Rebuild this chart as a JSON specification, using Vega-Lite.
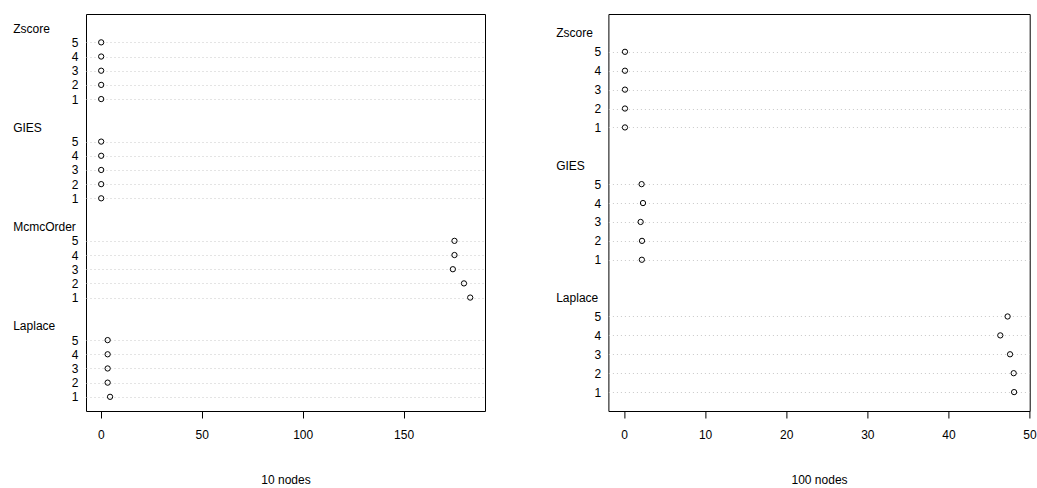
{
  "$schema": "https://vega.github.io/schema/vega-lite/v6.json",
  "padding": {"left": 12, "top": 13, "right": 0, "bottom": 0},
  "bounds": "flush",
  "spacing": 123.4,
  "config": {
    "font": "Liberation Sans",
    "view": {"stroke": "#000000", "strokeWidth": 1},
    "axis": {
      "labelFont": "Liberation Sans",
      "labelColor": "#000000",
      "labelFontSize": 12,
      "titleFont": "Liberation Sans",
      "titleColor": "#000000",
      "titleFontSize": 12,
      "titleFontWeight": "normal"
    }
  },
  "datasets": {
    "n10": [
      {"method": "Zscore", "run": 5, "key": "Zscore 5", "value": 0.2},
      {"method": "Zscore", "run": 4, "key": "Zscore 4", "value": 0.2},
      {"method": "Zscore", "run": 3, "key": "Zscore 3", "value": 0.2},
      {"method": "Zscore", "run": 2, "key": "Zscore 2", "value": 0.2},
      {"method": "Zscore", "run": 1, "key": "Zscore 1", "value": 0.2},
      {"method": "GIES", "run": 5, "key": "GIES 5", "value": 0.2},
      {"method": "GIES", "run": 4, "key": "GIES 4", "value": 0.2},
      {"method": "GIES", "run": 3, "key": "GIES 3", "value": 0.2},
      {"method": "GIES", "run": 2, "key": "GIES 2", "value": 0.2},
      {"method": "GIES", "run": 1, "key": "GIES 1", "value": 0.2},
      {"method": "McmcOrder", "run": 5, "key": "McmcOrder 5", "value": 175.2},
      {"method": "McmcOrder", "run": 4, "key": "McmcOrder 4", "value": 175.2},
      {"method": "McmcOrder", "run": 3, "key": "McmcOrder 3", "value": 174.4},
      {"method": "McmcOrder", "run": 2, "key": "McmcOrder 2", "value": 179.9},
      {"method": "McmcOrder", "run": 1, "key": "McmcOrder 1", "value": 183.0},
      {"method": "Laplace", "run": 5, "key": "Laplace 5", "value": 3.4},
      {"method": "Laplace", "run": 4, "key": "Laplace 4", "value": 3.4},
      {"method": "Laplace", "run": 3, "key": "Laplace 3", "value": 3.4},
      {"method": "Laplace", "run": 2, "key": "Laplace 2", "value": 3.4},
      {"method": "Laplace", "run": 1, "key": "Laplace 1", "value": 4.6}
    ],
    "n100": [
      {"method": "Zscore", "run": 5, "key": "Zscore 5", "value": 0.12},
      {"method": "Zscore", "run": 4, "key": "Zscore 4", "value": 0.12},
      {"method": "Zscore", "run": 3, "key": "Zscore 3", "value": 0.12},
      {"method": "Zscore", "run": 2, "key": "Zscore 2", "value": 0.12},
      {"method": "Zscore", "run": 1, "key": "Zscore 1", "value": 0.12},
      {"method": "GIES", "run": 5, "key": "GIES 5", "value": 2.17},
      {"method": "GIES", "run": 4, "key": "GIES 4", "value": 2.34},
      {"method": "GIES", "run": 3, "key": "GIES 3", "value": 2.05},
      {"method": "GIES", "run": 2, "key": "GIES 2", "value": 2.22},
      {"method": "GIES", "run": 1, "key": "GIES 1", "value": 2.2},
      {"method": "Laplace", "run": 5, "key": "Laplace 5", "value": 47.3},
      {"method": "Laplace", "run": 4, "key": "Laplace 4", "value": 46.4},
      {"method": "Laplace", "run": 3, "key": "Laplace 3", "value": 47.6},
      {"method": "Laplace", "run": 2, "key": "Laplace 2", "value": 48.05},
      {"method": "Laplace", "run": 1, "key": "Laplace 1", "value": 48.1}
    ]
  },
  "hconcat": [
    {
      "width": 399,
      "height": 397,
      "data": {"name": "n10"},
      "mark": {"type": "point", "shape": "circle", "filled": false, "stroke": "#000000", "strokeWidth": 1, "size": 28, "opacity": 1},
      "encoding": {
        "x": {
          "field": "value",
          "type": "quantitative",
          "scale": {"domain": [-7.32, 190.32], "nice": false, "zero": false},
          "axis": {
            "values": [0, 50, 100, 150],
            "title": "10 nodes",
            "domain": false,
            "grid": false,
            "tickColor": "#000000",
            "tickSize": 7,
            "labelPadding": 11,
            "titlePadding": 34,
            "labelFlush": false
          }
        },
        "y": {
          "field": "key",
          "type": "nominal",
          "scale": {
            "type": "point",
            "padding": 1,
            "domain": ["Zscore", "Zscore 5", "Zscore 4", "Zscore 3", "Zscore 2", "Zscore 1", "gap1",
                       "GIES", "GIES 5", "GIES 4", "GIES 3", "GIES 2", "GIES 1", "gap2",
                       "McmcOrder", "McmcOrder 5", "McmcOrder 4", "McmcOrder 3", "McmcOrder 2", "McmcOrder 1", "gap3",
                       "Laplace", "Laplace 5", "Laplace 4", "Laplace 3", "Laplace 2", "Laplace 1"]
          },
          "axis": {
            "title": null,
            "ticks": false,
            "tickSize": 0,
            "domain": false,
            "grid": true,
            "gridColor": "#c8c8c8",
            "gridDash": [1, 3],
            "gridWidth": 1,
            "gridOpacity": {"condition": {"test": "indexof(datum.value, ' ') >= 0", "value": 1}, "value": 0},
            "labelExpr": "indexof(datum.value, ' ') >= 0 ? substring(datum.value, indexof(datum.value, ' ') + 1) : (indexof(datum.value, 'gap') == 0 ? '' : datum.value)",
            "labelAlign": {"condition": {"test": "indexof(datum.value, ' ') < 0", "value": "left"}, "value": "right"},
            "labelPadding": {"condition": {"test": "indexof(datum.value, ' ') < 0", "value": 73.3}, "value": 8},
            "labelBaseline": "middle",
            "labelOverlap": false
          }
        }
      }
    },
    {
      "width": 421.3,
      "height": 397,
      "data": {"name": "n100"},
      "mark": {"type": "point", "shape": "circle", "filled": false, "stroke": "#000000", "strokeWidth": 1, "size": 28, "opacity": 1},
      "encoding": {
        "x": {
          "field": "value",
          "type": "quantitative",
          "scale": {"domain": [-1.924, 50.024], "nice": false, "zero": false},
          "axis": {
            "values": [0, 10, 20, 30, 40, 50],
            "title": "100 nodes",
            "domain": false,
            "grid": false,
            "tickColor": "#000000",
            "tickSize": 7,
            "labelPadding": 11,
            "titlePadding": 34,
            "labelFlush": false
          }
        },
        "y": {
          "field": "key",
          "type": "nominal",
          "scale": {
            "type": "point",
            "padding": 1,
            "domain": ["Zscore", "Zscore 5", "Zscore 4", "Zscore 3", "Zscore 2", "Zscore 1", "gap1",
                       "GIES", "GIES 5", "GIES 4", "GIES 3", "GIES 2", "GIES 1", "gap2",
                       "Laplace", "Laplace 5", "Laplace 4", "Laplace 3", "Laplace 2", "Laplace 1"]
          },
          "axis": {
            "title": null,
            "ticks": false,
            "tickSize": 0,
            "domain": false,
            "grid": true,
            "gridColor": "#c8c8c8",
            "gridDash": [1, 3],
            "gridWidth": 1,
            "gridOpacity": {"condition": {"test": "indexof(datum.value, ' ') >= 0", "value": 1}, "value": 0},
            "labelExpr": "indexof(datum.value, ' ') >= 0 ? substring(datum.value, indexof(datum.value, ' ') + 1) : (indexof(datum.value, 'gap') == 0 ? '' : datum.value)",
            "labelAlign": {"condition": {"test": "indexof(datum.value, ' ') < 0", "value": "left"}, "value": "right"},
            "labelPadding": {"condition": {"test": "indexof(datum.value, ' ') < 0", "value": 52.7}, "value": 7.7},
            "labelBaseline": "middle",
            "labelOverlap": false
          }
        }
      }
    }
  ]
}
